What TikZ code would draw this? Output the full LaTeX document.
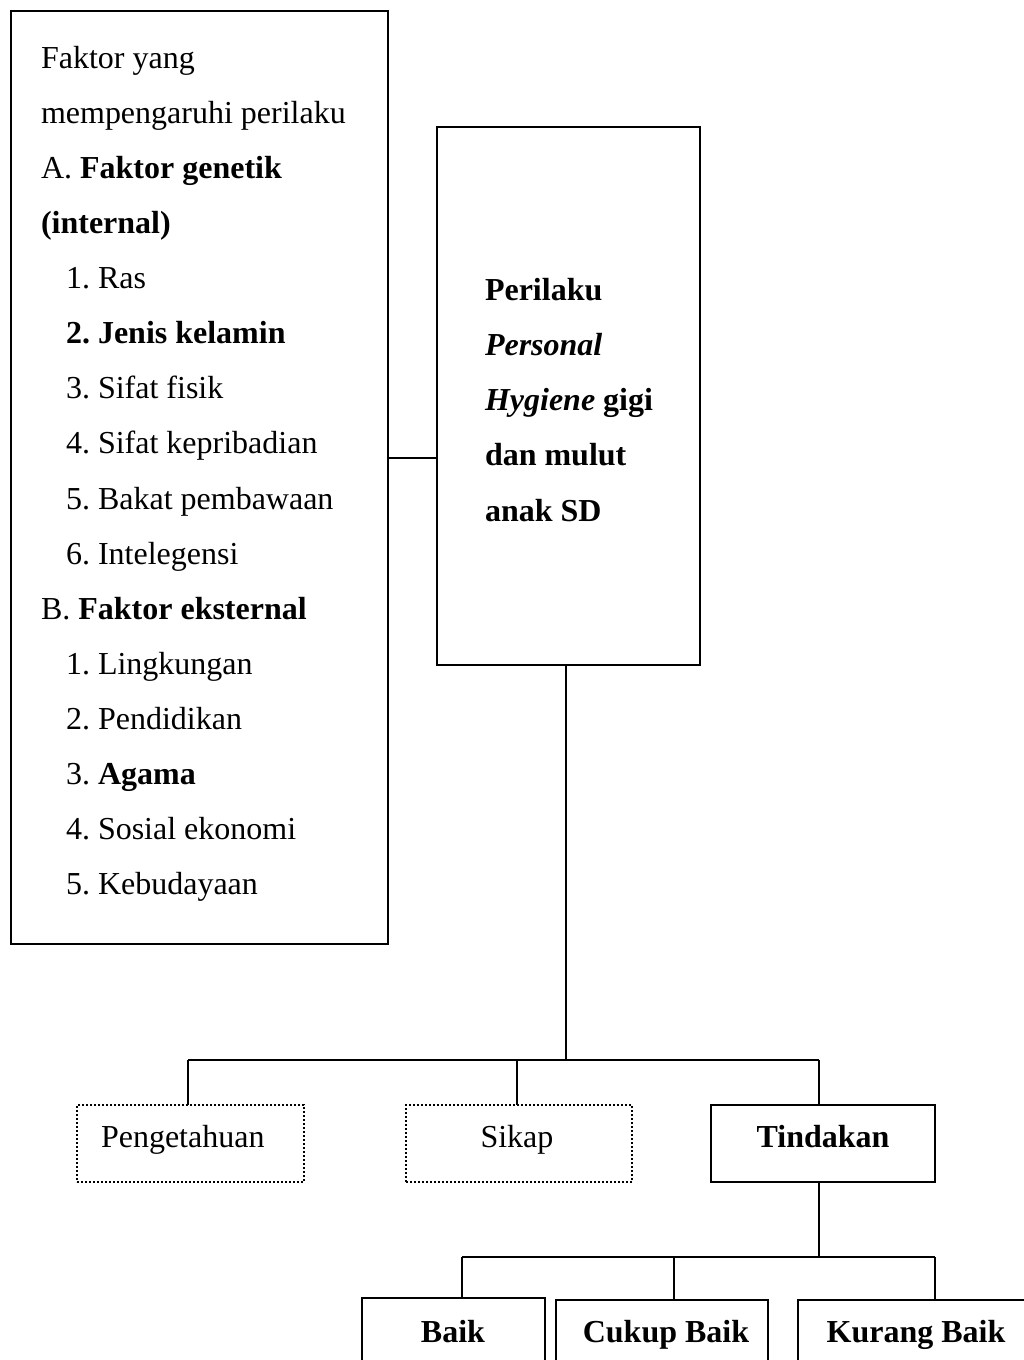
\documentclass[tikz,border=0pt]{standalone}
\usepackage{fontspec}
\setmainfont{Liberation Serif}
\frenchspacing
\begin{document}
\frenchspacing
\begin{tikzpicture}[x=1pt,y=-1pt,line width=2pt,
 box/.style={draw,rectangle,inner sep=0pt,outer sep=0pt,line width=2pt},
 dotbox/.style={box,dash pattern=on 2pt off 2pt},
 txt/.style={anchor=base west,inner sep=0pt,font=\fontsize{32}{38}\selectfont},
 ctxt/.style={anchor=base,inner sep=0pt,font=\fontsize{32}{38}\selectfont}]
\useasboundingbox (0,0) rectangle (1024,1360);
\clip (0,0) rectangle (1024,1360);
% main boxes
\node[box,minimum width=377pt,minimum height=933pt] (left) at (199.5,477.5) {};
\node[box,minimum width=263pt,minimum height=538pt] (center) at (568.5,396) {};
% left text
\foreach \x/\t [count=\i] in {40/Faktor yang,40/mempengaruhi perilaku,40/{A. \textbf{Faktor genetik}},40/\textbf{(internal)},
 65/1. Ras,65/\textbf{2. Jenis kelamin},65/3. Sifat fisik,65/4. Sifat kepribadian,65/5. Bakat pembawaan,65/6. Intelegensi,
 40/{B. \textbf{Faktor eksternal}},65/1. Lingkungan,65/2. Pendidikan,65/{3. \textbf{Agama}},65/4. Sosial ekonomi,65/5. Kebudayaan}
 {\node[txt] (l\i) at (\x,{68+55.13*(\i-1)}) {\frenchspacing\t};}
% center text
\foreach \t [count=\i] in {\textbf{Perilaku},\textbf{\textit{Personal}},{\textbf{\textit{Hygiene} gigi}},\textbf{dan mulut},\textbf{anak SD}}
 {\node[txt] (c\i) at (484,{300+55.3*(\i-1)}) {\t};}
% middle row
\node[dotbox,minimum width=227pt,minimum height=77pt] (peng) at (190.5,1143.5) {};
\node[dotbox,minimum width=226pt,minimum height=77pt] (sikap) at (519,1143.5) {};
\node[box,minimum width=224pt,minimum height=77pt] (tind) at (823,1143.5) {};
\node[txt] (tpeng) at (100,1147) {Pengetahuan};
\node[ctxt] (tsikap) at (517,1147) {Sikap};
\node[ctxt] (ttind) at (823,1147) {\textbf{Tindakan}};
% bottom row
\node[box,minimum width=183pt,minimum height=82pt] (baik) at (453.5,1339) {};
\node[box,minimum width=212pt,minimum height=80pt] (cukup) at (662,1340) {};
\node[box,minimum width=242pt,minimum height=80pt] (kurang) at (919,1340) {};
\node[ctxt] (tbaik) at (453,1342) {\textbf{Baik}};
\node[ctxt] (tcukup) at (666,1342) {\textbf{Cukup Baik}};
\node[ctxt] (tkurang) at (916,1342) {\textbf{Kurang Baik}};
% connectors
\coordinate (j) at (0,458);
\draw (left.east |- j) -- (center.west |- j);
\coordinate (hub1) at (566,1060);
\coordinate (a1) at (188,1060);
\coordinate (a2) at (517,1060);
\coordinate (a3) at (819,1060);
\draw (center.south -| hub1) -- (hub1);
\draw (a1) -- (a3);
\draw (a1) -- (a1 |- peng.north);
\draw (a2) -- (a2 |- sikap.north);
\draw (a3) -- (a3 |- tind.north);
\coordinate (hub2) at (819,1257);
\coordinate (d1) at (462,1257);
\coordinate (d2) at (674,1257);
\coordinate (d3) at (935,1257);
\draw (tind.south -| hub2) -- (hub2);
\draw (d1) -- (d3);
\draw (d1) -- (d1 |- baik.north);
\draw (d2) -- (d2 |- cukup.north);
\draw (d3) -- (d3 |- kurang.north);
\end{tikzpicture}
\end{document}
